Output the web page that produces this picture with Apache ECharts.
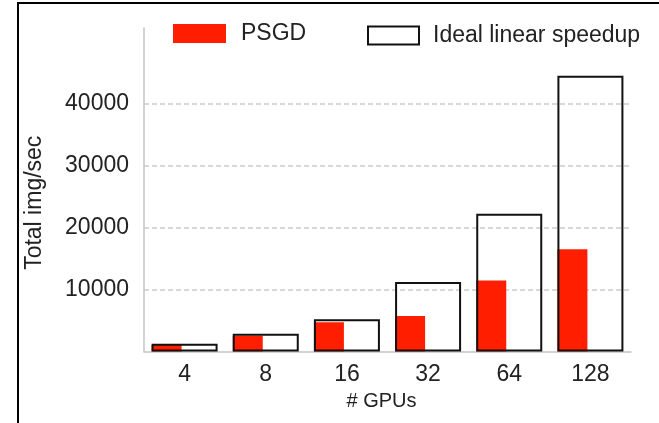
<!DOCTYPE html>
<html>
<head>
<meta charset="utf-8">
<script src="https://cdn.jsdelivr.net/npm/echarts@6/dist/echarts.min.js"></script>
<style>
  html, body { margin: 0; padding: 0; background: #fff; }
  #chart { width: 659px; height: 423px; }
</style>
</head>
<body>
<div id="chart"></div>
<script>
// Throughput scaling: measured PSGD vs. ideal linear speedup
const gpuCounts = ['4', '8', '16', '32', '64', '128'];
const psgdValues = [1050, 2560, 4730, 5740, 11460, 16540];
const idealValues = [1260, 2880, 5210, 11250, 22250, 44580];
const yTickLabels = [10000, 20000, 30000, 40000];

const FONT = '"Liberation Sans", Arial, Helvetica, sans-serif';
const TEXT = '#222';
const RED = '#ff1e00';
const GRID = '#cccccc';
const NONE = 'rgba(0,0,0,0)';

const chart = echarts.init(document.getElementById('chart'));

chart.setOption({
  backgroundColor: '#fff',
  animation: false,
  textStyle: { fontFamily: FONT },
  graphic: [{
    type: 'rect',
    shape: { x: 18, y: 3, width: 800, height: 600 },
    style: { fill: null, stroke: '#000', lineWidth: 2 },
    silent: true
  }],
  legend: [{
    data: ['PSGD'],
    left: 173, top: 22,
    padding: 0,
    icon: 'rect',
    itemWidth: 53, itemHeight: 19,
    itemStyle: { color: RED, borderWidth: 0 },
    textStyle: { fontSize: 23, color: TEXT, fontFamily: FONT, padding: [0, 0, 0, 10] }
  }, {
    data: ['Ideal linear speedup'],
    left: 367, top: 24,
    padding: 0,
    icon: 'rect',
    itemWidth: 51, itemHeight: 18,
    itemStyle: { color: '#fff', borderColor: '#111', borderWidth: 2 },
    textStyle: { fontSize: 23, color: TEXT, fontFamily: FONT, padding: [0, 0, 0, 9] }
  }],
  grid: { left: 144, right: 28, top: 28, bottom: 71.5 },
  xAxis: {
    type: 'category',
    data: gpuCounts,
    name: '# GPUs',
    nameLocation: 'middle',
    nameGap: 39,
    nameTextStyle: { fontSize: 20, color: TEXT, fontFamily: FONT, padding: [0, 12, 0, 0] },
    axisLine: { lineStyle: { color: '#c4c4c4', width: 1.5 } },
    axisTick: { show: false },
    axisLabel: { fontSize: 23, color: TEXT, margin: 12, fontFamily: FONT }
  },
  yAxis: {
    type: 'value',
    min: 0, max: 52300, interval: 10000,
    name: 'Total img/sec',
    nameLocation: 'middle',
    nameGap: 98,
    nameTextStyle: { fontSize: 23, color: TEXT, fontFamily: FONT, padding: [0, 26, 0, 0] },
    axisLine: { show: true, lineStyle: { color: '#c4c4c4', width: 1.5 } },
    axisTick: { show: false },
    axisLabel: {
      fontSize: 23, color: TEXT, margin: 15, fontFamily: FONT,
      formatter: v => (yTickLabels.indexOf(v) >= 0 ? String(v) : '')
    },
    splitLine: {
      show: true,
      lineStyle: {
        color: [NONE, GRID, GRID, GRID, GRID, NONE, NONE],
        width: 1.5,
        type: [5, 3]
      }
    }
  },
  series: [{
    name: 'PSGD',
    type: 'bar',
    data: psgdValues,
    barWidth: 30,
    barGap: '-100%',
    itemStyle: { color: RED },
    z: 2
  }, {
    name: 'Ideal linear speedup',
    type: 'bar',
    data: idealValues,
    barWidth: 66,
    itemStyle: { color: NONE, borderColor: '#111', borderWidth: 2 },
    z: 3
  }]
});
</script>
</body>
</html>
